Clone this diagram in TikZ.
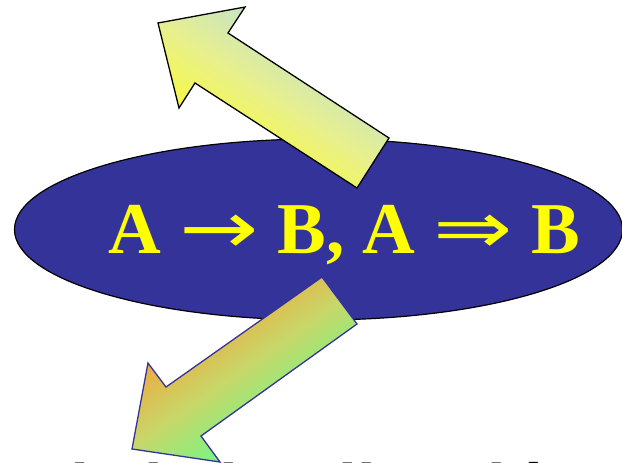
\documentclass[tikz,border=0pt]{standalone}
\usepackage{fontspec}
\setmainfont{Liberation Serif}
\newfontfamily\labelsans{Liberation Sans}
\newfontfamily\arrowfont{DejaVu Sans}
\definecolor{ellblue}{RGB}{51,51,153}
\definecolor{txtyellow}{RGB}{255,255,0}
\definecolor{upyellow}{RGB}{255,255,20}
\definecolor{upcyan}{RGB}{180,220,230}
\definecolor{upmid}{RGB}{232,240,140}
\definecolor{loorange}{RGB}{248,155,50}
\definecolor{logreen}{RGB}{95,255,140}
\definecolor{lomid}{RGB}{200,215,105}
\pgfdeclarehorizontalshading{loshade}{100bp}{color(0bp)=(loorange); color(33bp)=(loorange); color(50bp)=(lomid); color(67bp)=(logreen); color(100bp)=(logreen)}
\pgfdeclarehorizontalshading{upshade}{100bp}{color(0bp)=(upyellow); color(28bp)=(upyellow); color(50bp)=(upmid); color(72bp)=(upcyan); color(100bp)=(upcyan)}
\newcommand{\widearrow}[1]{{\arrowfont\mdseries\scalebox{1.3}[1]{#1}}}
\begin{document}
\begin{tikzpicture}[x=1pt,y=-1pt,
  ellipsestyle/.style={fill=ellblue,draw=black,line width=1.2pt},
  upborder/.style={draw=black,line width=1.3pt,line join=miter},
  downborder/.style={draw=ellblue,line width=1.3pt,line join=miter},
  maintext/.style={text=txtyellow,font=\bfseries\fontsize{73}{80}\selectfont,inner sep=0pt},
  bottomtext/.style={text=black,font=\labelsans\bfseries\fontsize{67}{70}\selectfont,inner sep=0pt}]
\useasboundingbox (0,0) rectangle (622,463);
\clip (0,0) rectangle (622,463);
% ellipse
\path[ellipsestyle] (318.5,229.5) ellipse [x radius=304, y radius=90.5];
% main text
\node[maintext,anchor=base] (main) at (344.5,253) {A \widearrow{→} B, A \widearrow{⇒} B};
% upper arrow
\path[upborder,path picture={
   \begin{scope}[transform canvas={shift={(272,98)},rotate=57}]
     \shade[shading=upshade] (-110,-220) rectangle (110,220);
   \end{scope}}]
  (158,23) -- (245,7) -- (228,33) -- (389,138) -- (357,188) -- (195,83) -- (179,108) -- cycle;
% lower arrow
\path[downborder,path picture={
   \begin{scope}[transform canvas={shift={(238,372)},rotate=-55}]
     \shade[shading=loshade] (-120,-220) rectangle (120,220);
   \end{scope}}]
  (322,277) -- (357,324) -- (201,436) -- (220,462) -- (132,449) -- (148,363) -- (166,387) -- cycle;
% bottom text (cut off by the lower edge)
\node[bottomtext,anchor=base west] (bottom) at (48,511) {de la implicación};
\end{tikzpicture}
\end{document}
